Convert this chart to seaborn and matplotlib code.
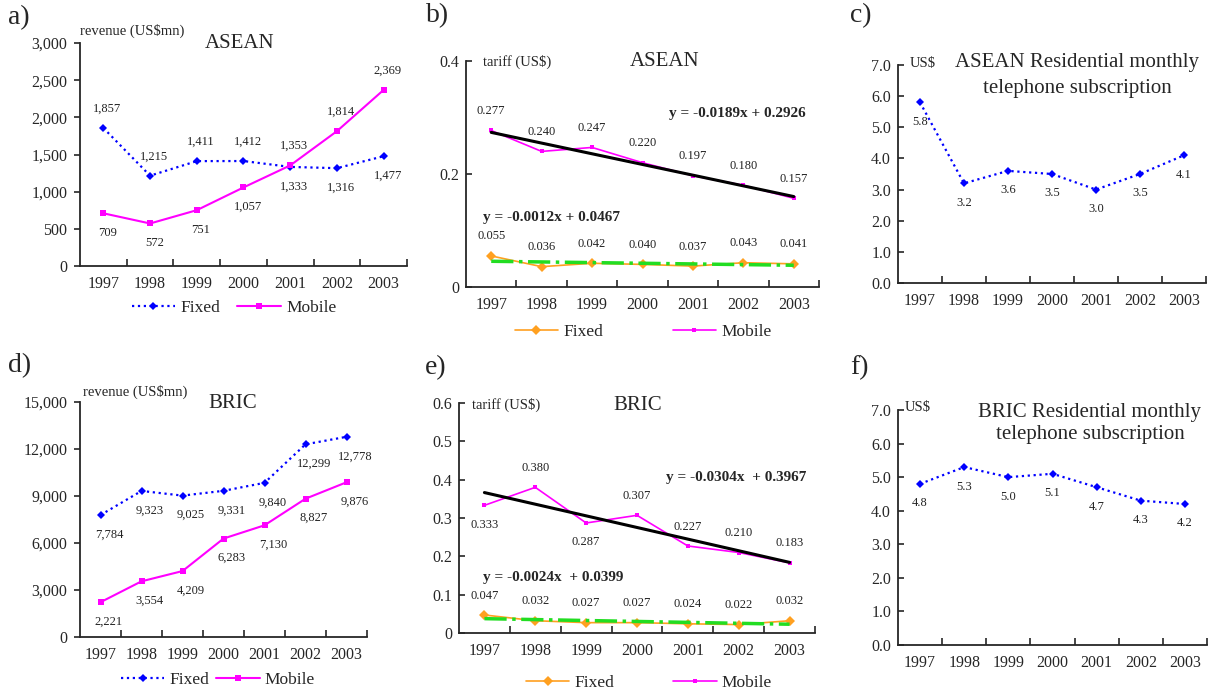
import numpy as np
import seaborn as sns
import matplotlib.pyplot as plt

years = ["1997", "1998", "1999", "2000", "2001", "2002", "2003"]

# a) ASEAN revenue (US$mn)
asean_rev_fixed = [1857, 1215, 1411, 1412, 1333, 1316, 1477]
asean_rev_mobile = [709, 572, 751, 1057, 1353, 1814, 2369]
# b) ASEAN tariff (US$)
asean_tar_fixed = [0.055, 0.036, 0.042, 0.040, 0.037, 0.043, 0.041]
asean_tar_mobile = [0.277, 0.240, 0.247, 0.220, 0.197, 0.180, 0.157]
# c) ASEAN residential monthly subscription (US$)
asean_sub = [5.8, 3.2, 3.6, 3.5, 3.0, 3.5, 4.1]
# d) BRIC revenue (US$mn)
bric_rev_fixed = [7784, 9323, 9025, 9331, 9840, 12299, 12778]
bric_rev_mobile = [2221, 3554, 4209, 6283, 7130, 8827, 9876]
# e) BRIC tariff (US$)
bric_tar_fixed = [0.047, 0.032, 0.027, 0.027, 0.024, 0.022, 0.032]
bric_tar_mobile = [0.333, 0.380, 0.287, 0.307, 0.227, 0.210, 0.183]
# f) BRIC residential monthly subscription (US$)
bric_sub = [4.8, 5.3, 5.0, 5.1, 4.7, 4.3, 4.2]

sns.set_style("ticks")
plt.rcParams['font.family'] = ['Liberation Serif', 'DejaVu Serif']

W, H = 1220, 694
fig = plt.figure(figsize=(W / 100, H / 100), dpi=100)

BLUE = "#0000FF"
MAG = "#FF00FF"
ORANGE = "#FFA020"
GREEN = "#22DD22"
pos = np.arange(7)


def px_axes(l, r, t, b):
    return fig.add_axes([l / W, 1 - b / H, (r - l) / W, (b - t) / H])


def ftext(x, y, s, **kw):
    fig.text(x / W, 1 - y / H, s, **kw)


def style_axes(ax, ylim, yticks, ylabels, ydir):
    ax.set_xlim(-0.5, 6.5)
    ax.set_ylim(*ylim)
    ax.set_yticks(yticks)
    ax.set_yticklabels(ylabels, fontsize=11.5)
    ax.set_xticks(np.arange(0.5, 7, 1))
    ax.set_xticklabels([])
    ax.set_xticks(pos, minor=True)
    ax.set_xticklabels(years, minor=True, fontsize=11.5)
    ax.tick_params(axis='x', which='major', direction='in', length=5, width=1.2)
    ax.tick_params(axis='x', which='minor', length=0, pad=7)
    ax.tick_params(axis='y', direction=ydir, length=4, width=1.2, pad=5)
    for s in ['top', 'right']:
        ax.spines[s].set_visible(False)
    for s in ['left', 'bottom']:
        ax.spines[s].set_linewidth(1.3)
    ax.set_xlabel('')
    ax.set_ylabel('')


def labels(ax, vals, texts, sides, dx=0, off=14):
    for i, (v, t, s) in enumerate(zip(vals, texts, sides)):
        dy = off if s == 'a' else -off
        ax.annotate(t, (i, v), xytext=(dx, dy), textcoords='offset points',
                    ha='center', va='center', fontsize=9, color='#222222')


def legend(ax, cx, cy, colsp):
    ax.legend(loc='center', bbox_to_anchor=(cx / W, 1 - cy / H),
              bbox_transform=fig.transFigure, ncol=2, frameon=False,
              fontsize=12.5, handlelength=2.5, handletextpad=0.3,
              columnspacing=colsp)


# ---- a) ----
ax = px_axes(80, 407, 43, 266)
sns.lineplot(x=pos, y=asean_rev_fixed, ax=ax, color=BLUE, linestyle=':', lw=1.6,
             marker='D', markersize=4.5, markeredgewidth=0, label='Fixed')
sns.lineplot(x=pos, y=asean_rev_mobile, ax=ax, color=MAG, lw=1.5,
             marker='s', markersize=4, markeredgewidth=0, label='Mobile')
style_axes(ax, (0, 3000), range(0, 3001, 500),
           [f"{v:,}" for v in range(0, 3001, 500)], 'out')
labels(ax, asean_rev_fixed, [f"{v:,}" for v in asean_rev_fixed],
       ['a', 'a', 'a', 'a', 'b', 'b', 'b'], dx=3)
labels(ax, asean_rev_mobile, [f"{v:,}" for v in asean_rev_mobile],
       ['b', 'b', 'b', 'b', 'a', 'a', 'a'], dx=3)
legend(ax, 234, 308, 1.0)
ftext(80, 31, "revenue (US$mn)", fontsize=10.5, va='center')
ftext(240, 44, "ASEAN", fontsize=15, ha='center', va='center')
ftext(8, 18, "a)", fontsize=20, va='center')

# ---- b) ----
ax = px_axes(466, 819, 61, 287)
sns.lineplot(x=pos, y=asean_tar_fixed, ax=ax, color=ORANGE, lw=1.2,
             marker='D', markersize=5, markeredgewidth=0, label='Fixed')
sns.lineplot(x=pos, y=asean_tar_mobile, ax=ax, color=MAG, lw=1.2,
             marker='s', markersize=3.5, markeredgewidth=0, label='Mobile')
sns.regplot(x=pos, y=asean_tar_mobile, ax=ax, ci=None, scatter=False,
            color='black', line_kws=dict(lw=2.2))
sns.regplot(x=pos, y=asean_tar_fixed, ax=ax, ci=None, scatter=False,
            color=GREEN, line_kws=dict(lw=2.5, ls='-.'))
style_axes(ax, (0, 0.4), [0, 0.2, 0.4], ['0', '0.2', '0.4'], 'in')
labels(ax, asean_tar_fixed, [f"{v:.3f}" for v in asean_tar_fixed], ['a'] * 7)
labels(ax, asean_tar_mobile, [f"{v:.3f}" for v in asean_tar_mobile], ['a'] * 7)
legend(ax, 643, 332, 4.0)
ftext(483, 62, "tariff (US$)", fontsize=10.5, va='center')
ftext(665, 62, "ASEAN", fontsize=15, ha='center', va='center')
ftext(806, 113, "y = -0.0189x + 0.2926", fontsize=11, fontweight='bold',
      ha='right', va='center')
ftext(483, 217, "y = -0.0012x + 0.0467", fontsize=11, fontweight='bold',
      ha='left', va='center')
ftext(426, 16, "b)", fontsize=20, va='center')

# ---- c) ----
ax = px_axes(898, 1206, 65, 283)
sns.lineplot(x=pos, y=asean_sub, ax=ax, color=BLUE, linestyle=':', lw=1.6,
             marker='D', markersize=4.5, markeredgewidth=0)
style_axes(ax, (0, 7), np.arange(0, 7.1, 1), [f"{v:.1f}" for v in range(8)], 'in')
labels(ax, asean_sub, [f"{v:.1f}" for v in asean_sub], ['b'] * 7)
ftext(910, 63, "US$", fontsize=10.5, va='center')
ftext(1077, 63, "ASEAN Residential monthly", fontsize=15, ha='center', va='center')
ftext(1077, 88, "telephone subscription", fontsize=15, ha='center', va='center')
ftext(850, 16, "c)", fontsize=20, va='center')

# ---- d) ----
ax = px_axes(80, 367, 402, 637)
sns.lineplot(x=pos, y=bric_rev_fixed, ax=ax, color=BLUE, linestyle=':', lw=1.6,
             marker='D', markersize=4.5, markeredgewidth=0, label='Fixed')
sns.lineplot(x=pos, y=bric_rev_mobile, ax=ax, color=MAG, lw=1.5,
             marker='s', markersize=4, markeredgewidth=0, label='Mobile')
style_axes(ax, (0, 15000), range(0, 15001, 3000),
           [f"{v:,}" for v in range(0, 15001, 3000)], 'out')
labels(ax, bric_rev_fixed, [f"{v:,}" for v in bric_rev_fixed], ['b'] * 7, dx=6)
labels(ax, bric_rev_mobile, [f"{v:,}" for v in bric_rev_mobile], ['b'] * 7, dx=6)
legend(ax, 218, 680, 0.4)
ftext(83, 392, "revenue (US$mn)", fontsize=10.5, va='center')
ftext(233, 404, "BRIC", fontsize=15, ha='center', va='center')
ftext(8, 366, "d)", fontsize=20, va='center')

# ---- e) ----
ax = px_axes(459, 815, 403, 633)
sns.lineplot(x=pos, y=bric_tar_fixed, ax=ax, color=ORANGE, lw=1.2,
             marker='D', markersize=5, markeredgewidth=0, label='Fixed')
sns.lineplot(x=pos, y=bric_tar_mobile, ax=ax, color=MAG, lw=1.2,
             marker='s', markersize=3.5, markeredgewidth=0, label='Mobile')
sns.regplot(x=pos, y=bric_tar_mobile, ax=ax, ci=None, scatter=False,
            color='black', line_kws=dict(lw=2.2))
sns.regplot(x=pos, y=bric_tar_fixed, ax=ax, ci=None, scatter=False,
            color=GREEN, line_kws=dict(lw=2.5, ls='-.'))
style_axes(ax, (0, 0.6), np.arange(0, 0.61, 0.1),
           ['0'] + [f"{v / 10:.1f}" for v in range(1, 7)], 'in')
labels(ax, bric_tar_fixed, [f"{v:.3f}" for v in bric_tar_fixed], ['a'] * 7)
labels(ax, bric_tar_mobile, [f"{v:.3f}" for v in bric_tar_mobile],
       ['b', 'a', 'b', 'a', 'a', 'a', 'a'])
legend(ax, 649, 683, 3.4)
ftext(472, 405, "tariff (US$)", fontsize=10.5, va='center')
ftext(638, 405, "BRIC", fontsize=15, ha='center', va='center')
ftext(806, 477, "y = -0.0304x  + 0.3967", fontsize=11, fontweight='bold',
      ha='right', va='center')
ftext(483, 577, "y = -0.0024x  + 0.0399", fontsize=11, fontweight='bold',
      ha='left', va='center')
ftext(425, 368, "e)", fontsize=20, va='center')

# ---- f) ----
ax = px_axes(898, 1207, 410, 645)
sns.lineplot(x=pos, y=bric_sub, ax=ax, color=BLUE, linestyle=':', lw=1.6,
             marker='D', markersize=4.5, markeredgewidth=0)
style_axes(ax, (0, 7), np.arange(0, 7.1, 1), [f"{v:.1f}" for v in range(8)], 'in')
labels(ax, bric_sub, [f"{v:.1f}" for v in bric_sub], ['b'] * 7)
ftext(905, 407, "US$", fontsize=10.5, va='center')
ftext(1090, 412, "BRIC Residential monthly", fontsize=15, ha='center', va='center')
ftext(1090, 435, "telephone subscription", fontsize=15, ha='center', va='center')
ftext(850, 368, "f)", fontsize=20, va='center')

plt.savefig("out.png", dpi=100)
plt.close()
